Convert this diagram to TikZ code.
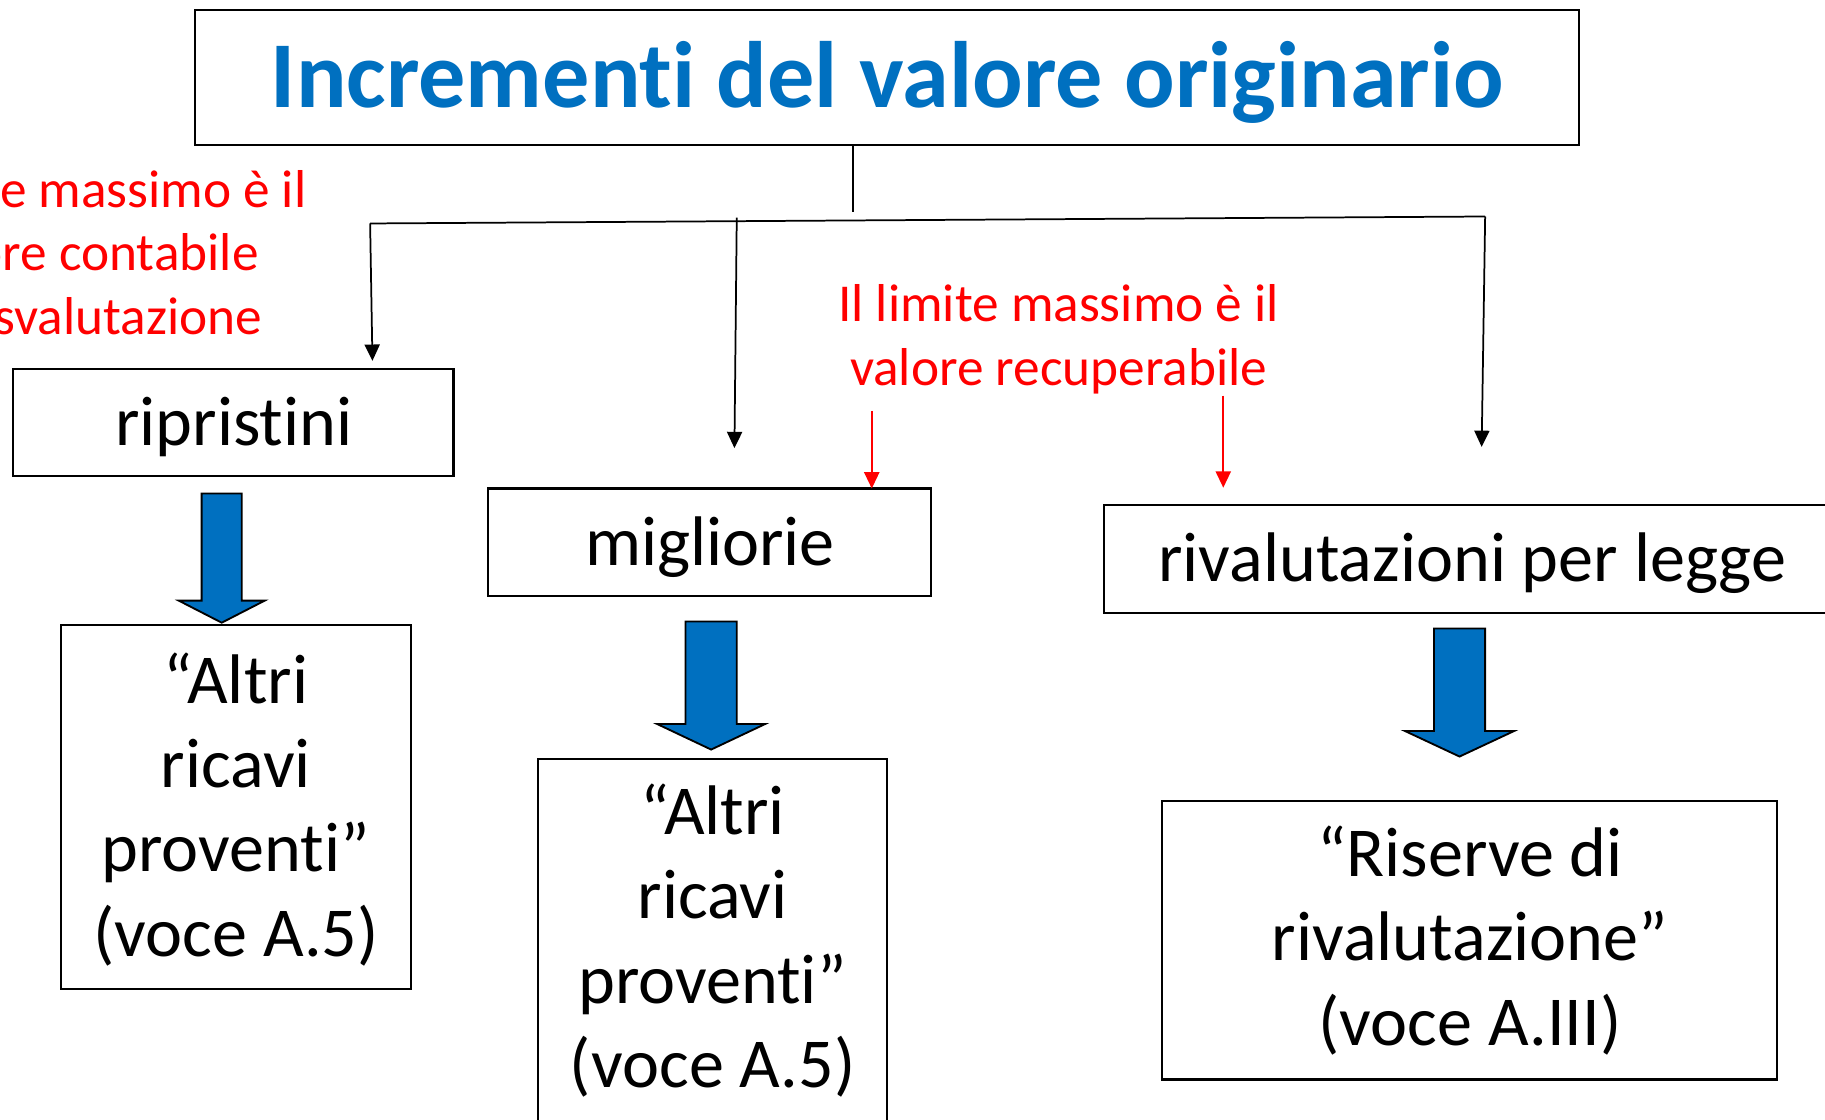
\documentclass[tikz,border=0pt]{standalone}
\usepackage{fontspec}
\setmainfont{Carlito}[Ligatures=NoCommon]
\usetikzlibrary{arrows.meta}
\definecolor{titleblue}{HTML}{0070C0}
\definecolor{notered}{HTML}{FF0000}
\definecolor{arrowblue}{HTML}{0070C0}
\begin{document}
\begin{tikzpicture}[x=1pt,y=-1pt,
  boxnode/.style={draw=black, line width=1.8pt, inner sep=0pt, outer sep=0pt},
  boxtext/.style={anchor=base, align=center, inner sep=0pt, font=\fontsize{60.3}{72.5}\selectfont},
  notetext/.style={anchor=base, align=center, inner sep=0pt, text=notered, font=\fontsize{45.8}{54.5}\selectfont},
  conn/.style={draw=black, line width=1.5pt},
  conntip/.style={conn, -{Triangle[length=14pt,width=13pt]}},
  redtip/.style={draw=notered, line width=1.5pt, -{Triangle[length=14pt,width=13pt]}},
  blockarrow/.style={fill=arrowblue, draw=black, line width=1.6pt, line join=miter}]
\useasboundingbox (0,0) rectangle (1568,962);
\fill[white] (0,0) rectangle (1568,962);
\clip (0,0) rectangle (1568,962);

% boxes
\node[boxnode, minimum width=1188.7pt, minimum height=116.3pt] (title) at (762.15,66.75) {};
\node[boxnode, minimum width=378.6pt, minimum height=92.3pt] (rip) at (200.3,362.85) {};
\node[boxnode, minimum width=380pt, minimum height=92.1pt] (mig) at (609.5,465.75) {};
\node[boxnode, minimum width=632.5pt, minimum height=92.5pt] (riv) at (1264.75,480.25) {};
\node[boxnode, minimum width=300.6pt, minimum height=313pt] (boxA) at (202.7,693.5) {};
\node[boxnode, minimum width=299.7pt, minimum height=348pt] (boxB) at (611.85,826) {};
\node[boxnode, minimum width=529pt, minimum height=239.5pt] (boxC) at (1262.5,807.75) {};

% texts (anchor base = baseline of the last line)
\node[anchor=base, inner sep=0pt, text=titleblue, font=\bfseries\fontsize{81}{96}\selectfont] (titleT) at (762.5,92) {Incrementi del valore originario};
\node[boxtext] (ripT) at (201,383) {ripristini};
\node[boxtext] (migT) at (610,486) {migliorie};
\node[boxtext] (rivT) at (1265,500) {rivalutazioni per legge};
\node[boxtext] (boxAT) at (202.7,821.5) {“Altri\\ricavi\\proventi”\\(voce A.5)};
\node[boxtext] (boxBT) at (612.3,934.5) {“Altri\\ricavi\\proventi”\\(voce A.5)};
\node[boxtext] (boxCT) at (1263,898) {“Riserve di\\rivalutazione”\\(voce A.III)};
\node[notetext] (note1) at (74,287) {Il limite massimo è il\\valore contabile\\pre svalutazione};
\node[notetext] (note2) at (909.5,331) {Il limite massimo è il\\valore recuperabile};

% connectors
\coordinate (jn) at (733,182);
\coordinate (hl) at (318,192);
\coordinate (hr) at (1276,186);
\coordinate (ma) at (633,187);
\coordinate (tipR) at (320,310);
\coordinate (tipM) at (631,385);
\coordinate (tipV) at (1273,384);
\draw[conn] (title.south -| jn) -- (jn);
\draw[conn] (hl) -- (hr);
\draw[conntip] (hl) -- (tipR);
\draw[conntip] (ma) -- (tipM);
\draw[conntip] (hr) -- (tipV);

\coordinate (r1s) at (749,353);
\coordinate (r2s) at (1051,340);
\coordinate (r2e) at (1051,419);
\draw[redtip] (r1s) -- (mig.north -| r1s);
\draw[redtip] (r2s) -- (r2e);

% block arrows
\draw[blockarrow] (173.25,424) -- (207.75,424) -- (207.75,516) -- (227.5,516) -- (190.5,535) -- (153.5,516) -- (173.25,516) -- cycle;
\draw[blockarrow] (589,534) -- (633,534) -- (633,622) -- (657.5,622) -- (611,644) -- (564.5,622) -- (589,622) -- cycle;
\draw[blockarrow] (1232,540) -- (1276,540) -- (1276,628) -- (1301,628) -- (1254,650) -- (1207,628) -- (1232,628) -- cycle;
\end{tikzpicture}
\end{document}
